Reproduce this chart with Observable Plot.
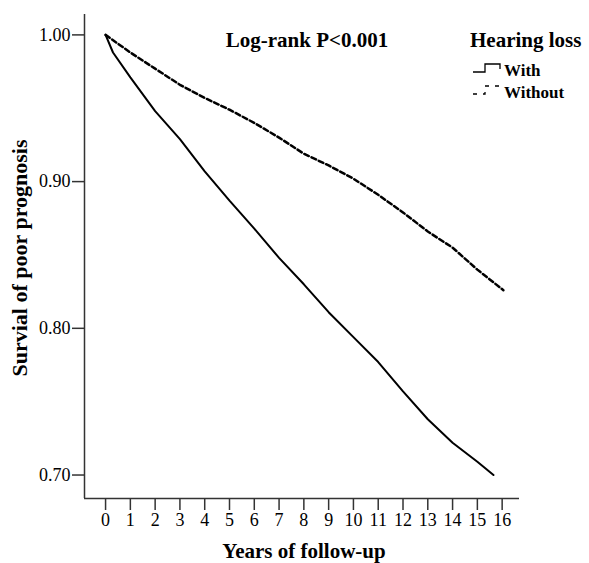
<!DOCTYPE html>
<html><head><meta charset="utf-8">
<script src="https://cdn.jsdelivr.net/npm/d3@7"></script>
<script src="https://cdn.jsdelivr.net/npm/@observablehq/plot@0.6"></script>
<style>
body{margin:0;background:#fff}
#chart svg g[aria-label$="tick label"] text { font-size: 18px; }
</style>
</head><body><div id="chart"></div>
<script>
// Kaplan-Meier style curves
const yearsWith = [0, 0.3, 1, 2, 3, 4, 5, 6, 7, 8, 9, 10, 11, 12, 13, 14, 15, 15.65];
const survWith  = [1.000, 0.988, 0.971, 0.948, 0.929, 0.907, 0.887, 0.868, 0.848, 0.830, 0.811, 0.794, 0.777, 0.757, 0.738, 0.722, 0.709, 0.700];
const yearsWithout = [0, 1, 2, 3, 4, 5, 6, 7, 8, 9, 10, 11, 12, 13, 14, 15, 16.05];
const survWithout  = [1.000, 0.988, 0.977, 0.966, 0.957, 0.949, 0.940, 0.930, 0.919, 0.911, 0.902, 0.891, 0.879, 0.866, 0.855, 0.840, 0.826];
const xTicks = [0, 1, 2, 3, 4, 5, 6, 7, 8, 9, 10, 11, 12, 13, 14, 15, 16];
const yTicks = [0.70, 0.80, 0.90, 1.00];
const seriesNames = ["With", "Without"];
const xTitle = "Years of follow-up";
const yTitle = "Survial of poor prognosis";
const pTitle = "Log-rank P<0.001";
const legendTitle = "Hearing loss";

const xDomain = [-0.85, 16.7];
const yDomain = [0.684, 1.0139];

const dataWith = yearsWith.map((t, i) => ({t, s: survWith[i]}));
const dataWithout = yearsWithout.map((t, i) => ({t, s: survWithout[i]}));

const FONT = "Liberation Serif, Times New Roman, serif";

function annotations() {
  const g = d3.create("svg:g").attr("font-family", FONT).attr("fill", "black");
  g.append("text").attr("x", 307).attr("y", 47).attr("text-anchor", "middle")
    .attr("font-size", 21).attr("font-weight", "bold").text(pTitle);
  g.append("text").attr("x", 470).attr("y", 47).attr("text-anchor", "start")
    .attr("font-size", 21).attr("font-weight", "bold").text(legendTitle);
  // legend glyphs (step symbols)
  g.append("path").attr("d", "M473,72H485V64H500V69").attr("fill", "none")
    .attr("stroke", "black").attr("stroke-width", 1.3);
  g.append("path").attr("d", "M473,94H485V86H500V91").attr("fill", "none")
    .attr("stroke", "black").attr("stroke-width", 1.3).attr("stroke-dasharray", "4,6");
  g.append("text").attr("x", 504).attr("y", 76).attr("text-anchor", "start")
    .attr("font-size", 17).attr("font-weight", "bold").text(seriesNames[0]);
  g.append("text").attr("x", 504).attr("y", 98).attr("text-anchor", "start")
    .attr("font-size", 17).attr("font-weight", "bold").text(seriesNames[1]);
  // axis titles
  g.append("text").attr("x", 304).attr("y", 558).attr("text-anchor", "middle")
    .attr("font-size", 21).attr("font-weight", "bold").text(xTitle);
  g.append("text").attr("transform", "translate(27,258) rotate(-90)").attr("text-anchor", "middle")
    .attr("font-size", 22).attr("font-weight", "bold").text(yTitle);
  return g.node();
}

const chart = Plot.plot({
  width: 589,
  height: 563,
  marginLeft: 84,
  marginRight: 70,
  marginTop: 14,
  marginBottom: 65,
  style: {fontFamily: FONT, fontSize: "18px", background: "white", color: "black"},
  x: {domain: xDomain},
  y: {domain: yDomain},
  marks: [
    Plot.axisX({ticks: xTicks, tickSize: 12, tickPadding: 3, label: null, stroke: "#333", strokeWidth: 1.5}),
    Plot.axisY({ticks: yTicks, tickFormat: d3.format(".2f"), tickSize: 12, tickPadding: 2, label: null, stroke: "#333", strokeWidth: 1.5}),
    Plot.ruleX([xDomain[0]], {stroke: "#333", strokeWidth: 1.5}),
    Plot.ruleY([yDomain[0]], {stroke: "#333", strokeWidth: 1.5}),
    Plot.line(dataWithout, {x: "t", y: "s", stroke: "black", strokeWidth: 2.5, strokeDasharray: "5,3"}),
    Plot.line(dataWith, {x: "t", y: "s", stroke: "black", strokeWidth: 2}),
    annotations
  ]
});
document.getElementById("chart").appendChild(chart);
</script>
</body></html>
